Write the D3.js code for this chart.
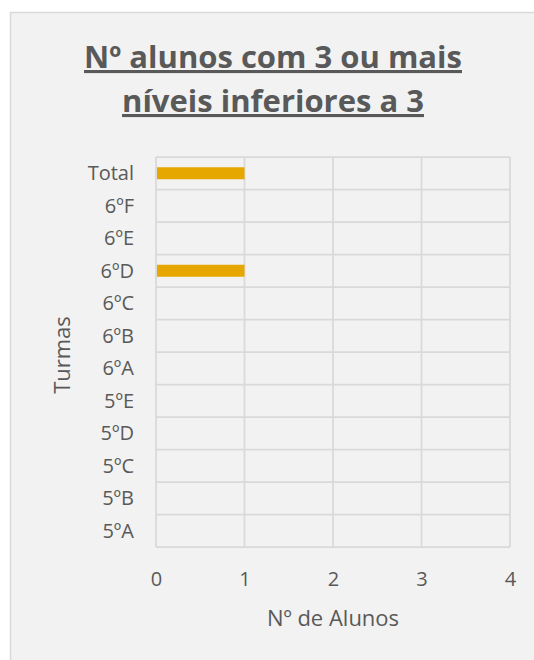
<!DOCTYPE html>
<html>
<head>
<meta charset="utf-8">
<script src="https://cdn.jsdelivr.net/npm/d3@7"></script>
<style>
  body { margin: 0; background: #ffffff; }
  text { font-family: "Open Sans", "Noto Sans", sans-serif; fill: #595959; }
</style>
</head>
<body>
<svg id="chart" width="534" height="660"></svg>
<script>
// data
var turmas = ["5ºA", "5ºB", "5ºC", "5ºD", "5ºE", "6ºA", "6ºB", "6ºC", "6ºD", "6ºE", "6ºF", "Total"]
var alunos = [0, 0, 0, 0, 0, 0, 0, 0, 1, 0, 0, 1]
var xTicks = [0, 1, 2, 3, 4]
var titleLines = ["Nº alunos com 3 ou mais", "níveis inferiores a 3"]

var svg = d3.select("#chart")

// chart area background (runs off the right / bottom edge like the screenshot)
svg.append("rect")
  .attr("x", 10.5).attr("y", 12.5)
  .attr("width", 540).attr("height", 660)
  .attr("fill", "#f2f2f2")
  .attr("stroke", "#d9d9d9")
  .attr("stroke-width", 1.5)

var margin = {left: 156, right: 510, top: 157, bottom: 547}

var x = d3.scaleLinear().domain([0, 4]).range([margin.left, margin.right])
var y = d3.scaleBand()
  .domain(turmas.slice().reverse())
  .range([margin.top, margin.bottom])

// ---------------------------//
//       GRID                 //
// ---------------------------//
var grid = svg.append("g").attr("stroke", "#d9d9d9").attr("stroke-width", 1.75)

grid.selectAll("vline")
  .data(xTicks)
  .enter()
  .append("line")
    .attr("x1", function(d){ return x(d) })
    .attr("x2", function(d){ return x(d) })
    .attr("y1", margin.top)
    .attr("y2", margin.bottom)

// category separators
var seps = y.domain().map(function(d){ return y(d) }).concat([margin.bottom])
grid.selectAll("hline")
  .data(seps)
  .enter()
  .append("line")
    .attr("x1", margin.left)
    .attr("x2", margin.right)
    .attr("y1", function(d){ return d })
    .attr("y2", function(d){ return d })

// ---------------------------//
//       BARS                 //
// ---------------------------//
var barH = 12
svg.append("g")
  .selectAll("bar")
  .data(turmas.map(function(t, i){ return {turma: t, v: alunos[i]} }).filter(function(d){ return d.v > 0 }))
  .enter()
  .append("rect")
    .attr("x", x(0) + 1)
    .attr("y", function(d){ return y(d.turma) + y.bandwidth()/2 - barH/2 })
    .attr("width", function(d){ return x(d.v) - x(0) - 1 })
    .attr("height", barH)
    .attr("fill", "#e6a800")

// ---------------------------//
//       AXES                 //
// ---------------------------//
var yAxis = svg.append("g")
  .attr("transform", "translate(" + (margin.left - 22) + ",0)")
  .call(d3.axisLeft(y).tickSize(0).tickPadding(0))
yAxis.select(".domain").remove()
yAxis.selectAll("text").style("font-size", "20px").attr("fill", "#595959").attr("dy", "0.35em")

var xAxis = svg.append("g")
  .attr("transform", "translate(0," + (margin.bottom + 32) + ")")
  .call(d3.axisBottom(x).tickValues(xTicks).tickFormat(d3.format("d")).tickSize(0).tickPadding(0))
xAxis.select(".domain").remove()
xAxis.selectAll("text").style("font-size", "20px").attr("fill", "#595959").attr("dy", "0.35em")

// axis titles
svg.append("text")
  .attr("x", (margin.left + margin.right) / 2)
  .attr("y", 618)
  .attr("dy", "0.35em")
  .attr("text-anchor", "middle")
  .style("font-size", "22px")
  .text("Nº de Alunos")

svg.append("text")
  .attr("transform", "translate(62," + 355 + ") rotate(-90)")
  .attr("dy", "0.35em")
  .attr("text-anchor", "middle")
  .style("font-size", "22px")
  .text("Turmas")

// title
svg.append("g")
  .selectAll("titles")
  .data(titleLines)
  .enter()
  .append("text")
    .attr("x", 273)
    .attr("y", function(d, i){ return 68 + i * 44 })
    .attr("text-anchor", "middle")
    .style("font-size", "31px")
    .style("font-weight", "bold")
    .style("text-decoration", "underline")
    .text(function(d){ return d })
</script>
</body>
</html>
